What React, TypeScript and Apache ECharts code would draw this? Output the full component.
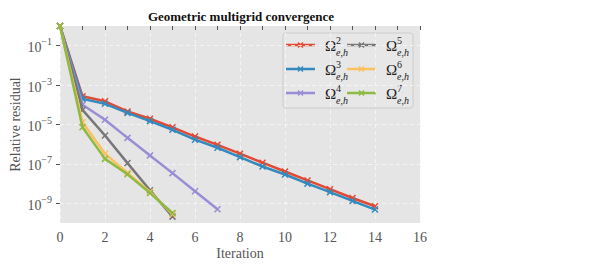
import React, { useEffect, useRef } from 'react';
import * as echarts from 'echarts';

// Residual histories (relative residual per iteration)
const levels = [2, 3, 4, 5, 6, 7];
const colors = ['#E24A33', '#348ABD', '#988ED5', '#777777', '#FBC15E', '#8EBA42'];
const resOmega2 = [1, 2.7e-4, 1.5e-4, 4.6e-5, 1.95e-5, 7.2e-6, 2.45e-6, 9.3e-7, 3.3e-7, 1.15e-7, 4.1e-8, 1.45e-8, 5.2e-9, 1.86e-9, 7.1e-10];
const resOmega3 = [1, 2.0e-4, 1.12e-4, 3.9e-5, 1.48e-5, 5.4e-6, 1.7e-6, 6.6e-7, 2.2e-7, 7.4e-8, 2.9e-8, 1.0e-8, 3.7e-9, 1.32e-9, 4.8e-10];
const resOmega4 = [1, 1.0e-4, 1.74e-5, 2.1e-6, 2.7e-7, 3.4e-8, 4.1e-9, 5.0e-10];
const resOmega5 = [1, 5.5e-5, 2.75e-6, 1.1e-7, 4.6e-9, 2.1e-10];
const resOmega6 = [1, 1.3e-5, 3.3e-7, 3.5e-8, 3.8e-9, 2.8e-10];
const resOmega7 = [1, 7.2e-6, 1.8e-7, 2.95e-8, 3.3e-9, 3.2e-10];
const residuals = [resOmega2, resOmega3, resOmega4, resOmega5, resOmega6, resOmega7];

const yTickValues = [1e-1, 1e-3, 1e-5, 1e-7, 1e-9];

const SERIF = '"Liberation Serif", "DejaVu Serif", serif';
const XMARK = 'path://M0,0L10,10M10,0L0,10';

export default function App() {
  const ref = useRef<HTMLDivElement>(null);
  useEffect(() => {
    document.body.style.margin = '0';
    if (!ref.current) return;
    const chart = echarts.init(ref.current, undefined, { renderer: 'svg' });

    const series = residuals.map((vals, k) => ({
      name: 'Omega' + levels[k],
      type: 'line',
      data: vals.map((v, i) => [i, v]),
      symbol: XMARK,
      symbolSize: 6,
      showSymbol: true,
      lineStyle: { color: colors[k], width: 2.5 },
      itemStyle: { color: colors[k], borderColor: colors[k], borderWidth: 1.5 },
      emphasis: { disabled: true },
      z: 3 + k,
    }));

    // legend drawn as graphic (stacked super/subscripts)
    const legendChildren: any[] = [
      { type: 'rect', shape: { x: 283, y: 33, width: 130, height: 75, r: 3 }, style: { fill: '#E7E7E7', stroke: '#CCCCCC', lineWidth: 1 } },
    ];
    levels.forEach((lv, k) => {
      const col = Math.floor(k / 3);
      const row = k % 3;
      const x0 = col === 0 ? 286 : 347;
      const y0 = 45 + row * 24;
      const c = colors[k];
      legendChildren.push({ type: 'line', shape: { x1: x0, y1: y0, x2: x0 + 29, y2: y0 }, style: { stroke: c, lineWidth: 2.5 } });
      const mx = x0 + 14.5;
      legendChildren.push({ type: 'line', shape: { x1: mx - 2.5, y1: y0 - 2.5, x2: mx + 2.5, y2: y0 + 2.5 }, style: { stroke: c, lineWidth: 1.5 } });
      legendChildren.push({ type: 'line', shape: { x1: mx - 2.5, y1: y0 + 2.5, x2: mx + 2.5, y2: y0 - 2.5 }, style: { stroke: c, lineWidth: 1.5 } });
      const tx = x0 + 39;
      legendChildren.push({ type: 'text', x: tx, y: y0 + 1, style: { text: 'Ω', font: '15px ' + SERIF, fill: '#222', verticalAlign: 'middle', align: 'left' } });
      legendChildren.push({ type: 'text', x: tx + 11, y: y0 - 5, style: { text: String(lv), font: '10px ' + SERIF, fill: '#222', verticalAlign: 'middle', align: 'left' } });
      legendChildren.push({ type: 'text', x: tx + 11, y: y0 + 7, style: { text: 'e,h', font: 'italic 10px ' + SERIF, fill: '#222', verticalAlign: 'middle', align: 'left' } });
    });

    const option: any = {
      animation: false,
      title: {
        text: 'Geometric multigrid convergence',
        left: 236,
        top: 5,
        textAlign: 'center',
        textStyle: { fontFamily: SERIF, fontWeight: 'bold', fontSize: 13, color: '#111' },
      },
      grid: {
        left: 60, right: 180, top: 26, bottom: 41,
        show: true, backgroundColor: '#E5E5E5', borderWidth: 0,
        containLabel: false, outerBoundsMode: 'none',
      },
      xAxis: [
        {
          type: 'value', min: 0, max: 16, interval: 2,
          name: 'Iteration', nameLocation: 'middle', nameGap: 23, nameMoveOverlap: false,
          nameTextStyle: { fontFamily: SERIF, fontSize: 14, color: '#555' },
          axisLine: { show: false }, axisTick: { show: false },
          axisLabel: { fontFamily: SERIF, fontSize: 14, color: '#555', margin: 7 },
          splitLine: { show: true, lineStyle: { color: '#F8F8F8', type: [4, 3], width: 0.8 } },
        },
        {
          type: 'value', min: 0, max: 16, interval: 1, position: 'top',
          axisLine: { show: false },
          axisTick: { show: true, inside: true, length: 4, lineStyle: { color: '#555', width: 1 } },
          axisLabel: { show: false }, splitLine: { show: false },
        },
      ],
      yAxis: [
        {
          type: 'log', logBase: 10, min: 1e-10, max: 1,
          name: 'Relative residual', nameLocation: 'middle', nameGap: 38, nameMoveOverlap: false,
          nameTextStyle: { fontFamily: SERIF, fontSize: 14, color: '#555' },
          axisLine: { show: false },
          axisTick: { show: false, customValues: yTickValues },
          axisLabel: {
            customValues: yTickValues,
            margin: 8,
            formatter: (v: number) => {
              const e = Math.round(Math.log10(v));
              return '{b|10}{s|−' + Math.abs(e) + '}';
            },
            rich: {
              b: { fontFamily: SERIF, fontSize: 14, color: '#555', verticalAlign: 'bottom', lineHeight: 18 },
              s: { fontFamily: SERIF, fontSize: 10, color: '#555', verticalAlign: 'top', lineHeight: 18 },
            },
          },
          splitLine: { show: true, lineStyle: { color: '#F8F8F8', type: [4, 3], width: 0.8 } },
        },
        {
          type: 'log', logBase: 10, min: 1e-10, max: 1, position: 'right',
          axisLine: { show: false },
          axisTick: { show: true, inside: true, length: 4, customValues: yTickValues, lineStyle: { color: '#555', width: 1 } },
          axisLabel: { show: false }, splitLine: { show: false },
        },
      ],
      series,
      graphic: [{ type: 'group', z: 100, children: legendChildren }],
    };
    chart.setOption(option);
    return () => chart.dispose();
  }, []);
  return <div ref={ref} style={{ width: 600, height: 264 }} />;
}
